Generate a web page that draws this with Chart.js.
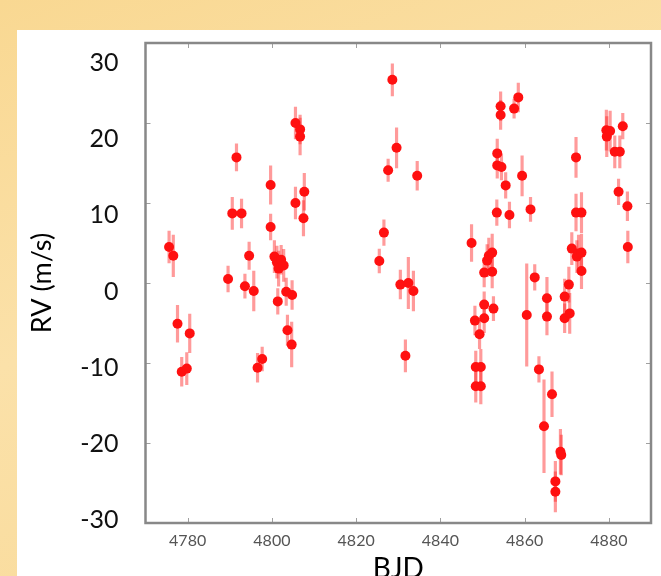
<!DOCTYPE html>
<html>
<head>
<meta charset="utf-8">
<script src="https://cdn.jsdelivr.net/npm/chart.js@4.4.1/dist/chart.umd.min.js"></script>
<style>
    html, body { margin: 0; padding: 0; width: 661px; height: 576px; overflow: hidden; }
    body { background: linear-gradient(160deg, #f9d892 0%, #fbe1a9 45%, #f8d996 100%); position: relative; }
    #panel { position: absolute; left: 17px; top: 30px; width: 644px; height: 546px; background: #fff; }
    #rvChart { position: absolute; left: 0; top: 0; }
</style>
</head>
<body>
<div id="panel"></div>
<canvas id="rvChart" width="661" height="600"></canvas>
<script>
const bjd = [
    4775.6, 4776.6, 4777.6, 4778.6, 4779.8, 4780.5,
    4789.6, 4790.6, 4791.6, 4792.8, 4793.6, 4794.6, 4795.7, 4796.6, 4797.7,
    4799.7, 4799.7, 4800.6, 4801.2, 4801.6, 4802.2, 4802.8, 4801.4, 4803.4,
    4804.8, 4803.7, 4804.7, 4805.6, 4805.6, 4806.7, 4806.7, 4807.7, 4807.5,
    4825.5, 4826.6, 4827.6, 4828.6, 4829.6, 4830.5, 4832.4, 4833.6, 4831.7, 4834.5,
    4847.4, 4848.2, 4848.4, 4848.4, 4849.6, 4849.6, 4849.3, 4850.4, 4850.4, 4850.4,
    4851.1, 4851.5, 4852.3, 4852.3, 4852.6, 4853.4, 4853.5, 4853.5, 4854.3, 4854.3,
    4854.5, 4855.5, 4856.4, 4857.5, 4858.5, 4859.4,
    4860.5, 4861.4, 4862.4, 4863.4, 4864.6, 4865.3, 4865.3, 4866.5, 4867.3, 4867.3,
    4868.5, 4868.7, 4869.5, 4869.5, 4870.5, 4870.7, 4871.2, 4872.2, 4872.2, 4872.4,
    4872.8, 4873.5, 4873.5, 4873.5,
    4879.4, 4879.5, 4880.3, 4881.4, 4882.6, 4882.3, 4883.3, 4884.4, 4884.5
];
const rv = [
    4.5, 3.4, -5.1, -11.1, -10.7, -6.3,
    0.5, 8.7, 15.7, 8.7, -0.4, 3.4, -1.0, -10.6, -9.5,
    12.25, 7.0, 3.3, 2.6, 1.8, 2.9, 2.2, -2.3, -1.1,
    -1.5, -5.9, -7.7, 10.0, 20.0, 19.2, 18.3, 11.4, 8.1,
    2.75, 6.3, 14.1, 25.4, 16.9, -0.2, 0.0, -1.0, -9.1, 13.4,
    5.0, -4.7, -10.5, -12.9, -10.5, -12.9, -6.4, 1.3, -2.7, -4.4,
    2.8, 3.4, 3.8, 1.4, -3.2, 8.8, 16.2, 14.7, 22.1, 21.0,
    14.5, 12.2, 8.5, 21.8, 23.2, 13.4,
    -4.0, 9.2, 0.7, -10.8, -17.9, -1.9, -4.2, -13.9, -24.8, -26.1,
    -21.1, -21.5, -1.7, -4.4, -0.2, -3.8, 4.3, 15.7, 8.8, 3.3,
    3.7, 3.8, 8.8, 1.5,
    19.1, 18.3, 19.0, 16.4, 16.4, 11.4, 19.6, 9.6, 4.5
];
const rvErr = [
    2.0, 2.6, 2.3, 1.8, 2.0, 2.4,
    1.6, 2.0, 1.7, 1.8, 1.5, 1.7, 2.5, 1.8, 1.5,
    2.4, 1.6, 2.0, 2.0, 2.2, 1.8, 2.0, 1.6, 1.7,
    1.8, 1.9, 2.8, 2.0, 2.0, 1.8, 2.3, 2.3, 2.2,
    1.5, 1.6, 1.4, 2.0, 2.5, 1.8, 3.2, 2.5, 2.0, 1.8,
    2.3, 1.8, 2.0, 2.0, 2.2, 2.2, 1.8, 1.8, 1.6, 1.8,
    2.0, 2.2, 2.3, 2.0, 1.5, 1.6, 1.8, 1.6, 1.8, 1.8,
    1.6, 1.6, 1.6, 1.2, 1.8, 2.5,
    6.4, 1.5, 1.6, 1.6, 5.8, 2.6, 2.3, 2.8, 2.5, 2.5,
    2.8, 2.5, 2.2, 1.8, 2.2, 2.5, 2.0, 2.5, 2.3, 2.0,
    2.3, 2.3, 2.5, 2.2,
    2.5, 2.5, 2.5, 2.0, 2.0, 1.6, 1.6, 1.8, 2.0
];
const xTicks = [4780, 4800, 4820, 4840, 4860, 4880];
const yTicks = [-30, -20, -10, 0, 10, 20, 30];

const points = bjd.map((x, i) => ({x: x, y: rv[i]}));
const bars = bjd.map((x, i) => ({x: x, y: [rv[i] - rvErr[i], rv[i] + rvErr[i]]}));

const setTicks = (list) => (scale) => {
    scale.ticks = list.map(v => ({value: v}));
};

// box round the plot with short ticks pointing inwards
const framePlugin = {
    id: 'frame',
    afterDraw(chart) {
        const {ctx, chartArea: a, scales} = chart;
        ctx.save();
        ctx.strokeStyle = '#a0a0a0';
        ctx.lineWidth = 1;
        ctx.beginPath();
        scales.x.ticks.forEach(t => {
            const px = Math.round(scales.x.getPixelForValue(t.value)) + 0.5;
            ctx.moveTo(px, a.top); ctx.lineTo(px, a.top + 5);
            ctx.moveTo(px, a.bottom); ctx.lineTo(px, a.bottom - 5);
        });
        scales.y.ticks.forEach(t => {
            const py = Math.round(scales.y.getPixelForValue(t.value)) + 0.5;
            ctx.moveTo(a.left, py); ctx.lineTo(a.left + 5, py);
            ctx.moveTo(a.right, py); ctx.lineTo(a.right - 5, py);
        });
        ctx.stroke();
        ctx.strokeStyle = '#888';
        ctx.lineWidth = 2.5;
        ctx.strokeRect(a.left, a.top, a.right - a.left, a.bottom - a.top);
        ctx.restore();
    }
};

const config = {
    type: 'scatter',
    data: {
        datasets: [{
            type: 'scatter',
            data: points,
            pointRadius: 5,
            pointHoverRadius: 5,
            backgroundColor: '#ff1010',
            borderWidth: 0,
            order: 0
        }, {
            type: 'bar',
            data: bars,
            backgroundColor: 'rgba(255, 30, 30, 0.45)',
            borderWidth: 0,
            barThickness: 2.5,
            grouped: false,
            order: 1
        }]
    },
    options: {
        responsive: false,
        animation: false,
        layout: {
            padding: {top: 43, right: 10, left: 0, bottom: 0}
        },
        plugins: {
            legend: {display: false},
            tooltip: {enabled: false}
        },
        scales: {
            x: {
                type: 'linear',
                min: 4770,
                max: 4890,
                offset: false,
                grid: {display: false, drawTicks: false, offset: false},
                border: {display: false},
                afterBuildTicks: setTicks(xTicks),
                afterFit: (scale) => { scale.height = 77; },
                ticks: {
                    padding: 8,
                    color: '#555',
                    font: {family: 'Lato', size: 16},
                    callback: (v) => String(v)
                },
                title: {
                    display: true,
                    text: 'BJD',
                    color: '#000',
                    font: {family: 'Lato', size: 28},
                    padding: {top: 0, bottom: 14}
                }
            },
            y: {
                type: 'linear',
                display: false,
                min: -30,
                max: 30,
                afterBuildTicks: setTicks(yTicks)
            },
            yl: {
                type: 'linear',
                position: 'left',
                min: -30.4,
                max: 32.63,
                grid: {display: false, drawTicks: false},
                border: {display: false},
                afterBuildTicks: setTicks(yTicks),
                afterFit: (scale) => { scale.width = 145.5; },
                ticks: {
                    padding: 27,
                    color: '#111',
                    font: {family: 'Lato', size: 25},
                    callback: (v) => String(v)
                },
                title: {
                    display: true,
                    text: 'RV (m/s)',
                    color: '#000',
                    font: {family: 'Lato', size: 27},
                    padding: {top: 26, bottom: 0}
                }
            }
        }
    },
    plugins: [framePlugin]
};

const rvChart = new Chart(
    document.getElementById('rvChart').getContext('2d'),
    config
);
</script>
</body>
</html>
